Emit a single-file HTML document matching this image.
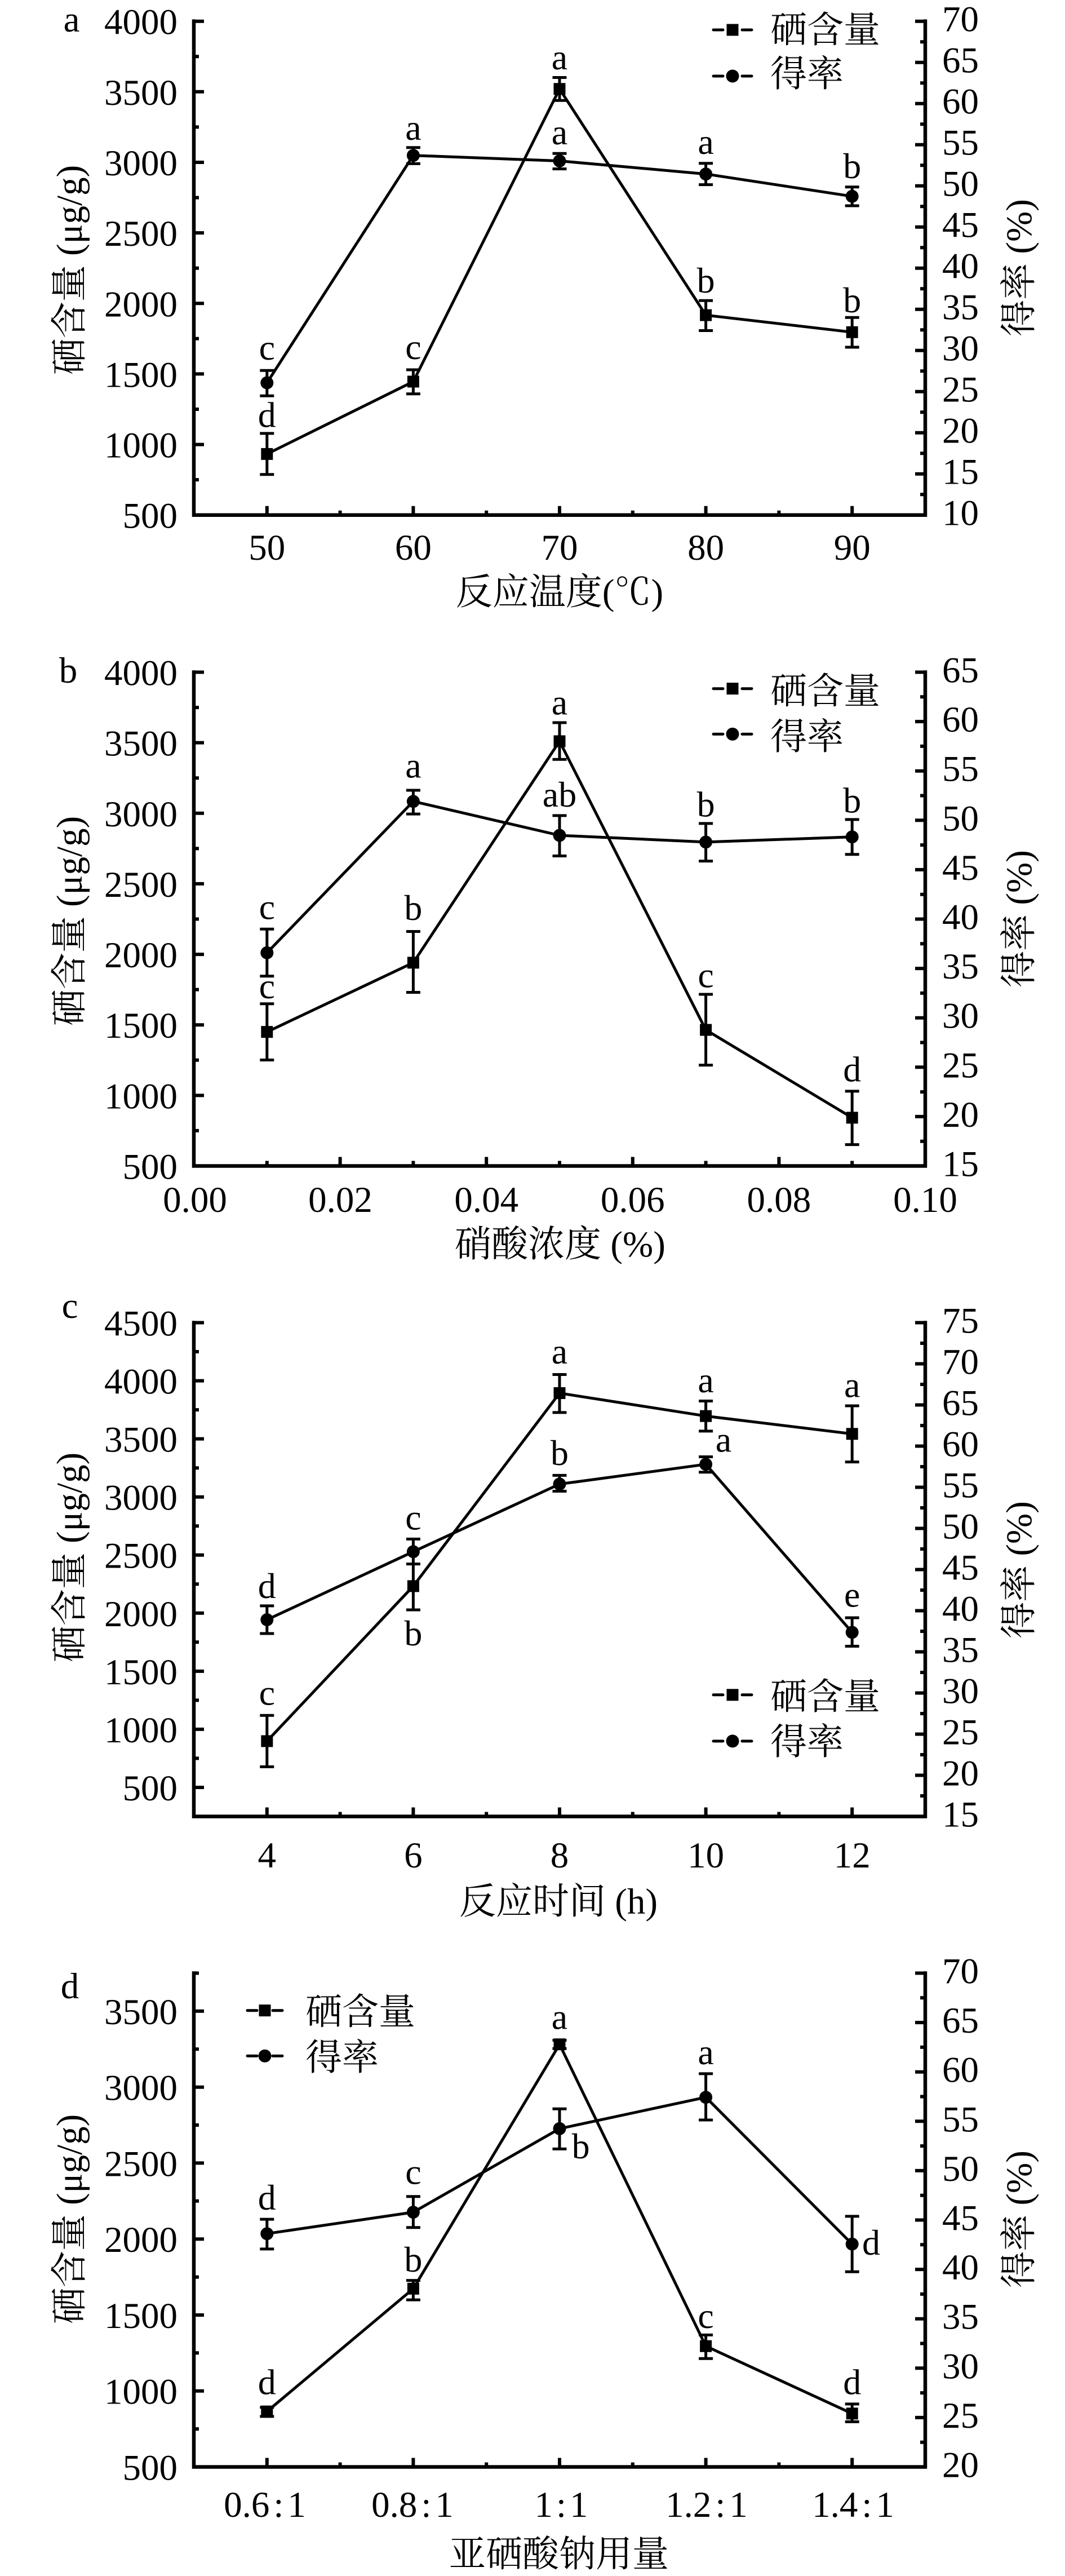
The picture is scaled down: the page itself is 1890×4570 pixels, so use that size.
<!DOCTYPE html>
<html>
<head>
<meta charset="utf-8">
<style>
html,body{margin:0;padding:0;background:#fff;}
svg{display:block;}
svg text{font-family:"Liberation Serif","Noto Serif CJK SC",serif;font-size:65px;fill:#000;}
.m{text-anchor:middle;}
.e{text-anchor:end;}
.l{font-size:64px;text-anchor:middle;}
.ax{fill:none;stroke:#000;stroke-width:6.5;}
.tk{fill:none;stroke:#000;stroke-width:6;}
.dl{fill:none;stroke:#000;stroke-width:5;stroke-linejoin:round;}
.eb{fill:none;stroke:#000;stroke-width:5;}
.lg{fill:none;stroke:#000;stroke-width:5;stroke-linecap:round;}
</style>
</head>
<body>
<svg width="1890" height="4570" viewBox="0 0 1890 4570" xmlns="http://www.w3.org/2000/svg">
<rect x="0" y="0" width="1890" height="4570" fill="#fff"/>

<!-- ================= PANEL A ================= -->
<g>
<path class="ax" d="M344 34.4V917M340.75 913.7H1645.25M1642 34.4V917"/>
<path class="tk" d="M344 788.6h18M344 663.4h18M344 538.3h18M344 413.1h18M344 288h18M344 162.8h18M344 37.7h18
M344 851.1h9M344 726h9M344 600.8h9M344 475.7h9M344 350.6h9M344 225.4h9M344 100.3h9
M1642 840.7h-18M1642 767.7h-18M1642 694.7h-18M1642 621.7h-18M1642 548.7h-18M1642 475.7h-18M1642 402.7h-18M1642 329.7h-18M1642 256.7h-18M1642 183.7h-18M1642 110.7h-18M1642 37.7h-18
M1642 877.2h-9M1642 804.2h-9M1642 731.2h-9M1642 658.2h-9M1642 585.2h-9M1642 512.2h-9M1642 439.2h-9M1642 366.2h-9M1642 293.2h-9M1642 220.2h-9M1642 147.2h-9M1642 74.2h-9
M473.8 913.7v-16M733.4 913.7v-16M993 913.7v-16M1252.6 913.7v-16M1512.2 913.7v-16
M603.6 913.7v-8M863.2 913.7v-8M1122.8 913.7v-8M1382.4 913.7v-8"/>
<text class="e" x="315" y="936.7">500</text>
<text class="e" x="315" y="811.6">1000</text>
<text class="e" x="315" y="686.4">1500</text>
<text class="e" x="315" y="561.3">2000</text>
<text class="e" x="315" y="436.1">2500</text>
<text class="e" x="315" y="311">3000</text>
<text class="e" x="315" y="185.8">3500</text>
<text class="e" x="315" y="60.7">4000</text>
<text x="1672" y="931.7">10</text>
<text x="1672" y="858.7">15</text>
<text x="1672" y="785.7">20</text>
<text x="1672" y="712.7">25</text>
<text x="1672" y="639.7">30</text>
<text x="1672" y="566.7">35</text>
<text x="1672" y="493.7">40</text>
<text x="1672" y="420.7">45</text>
<text x="1672" y="347.7">50</text>
<text x="1672" y="274.7">55</text>
<text x="1672" y="201.7">60</text>
<text x="1672" y="128.7">65</text>
<text x="1672" y="55.7">70</text>
<text class="m" x="473.8" y="993">50</text>
<text class="m" x="733.4" y="993">60</text>
<text class="m" x="993" y="993">70</text>
<text class="m" x="1252.6" y="993">80</text>
<text class="m" x="1512.2" y="993">90</text>
<text class="m" x="993" y="1072">反应温度(℃)</text>
<text class="m" transform="translate(145,479) rotate(-90)">硒含量 (μg/g)</text>
<text class="m" transform="translate(1830,475) rotate(-90)">得率 (%)</text>
<text class="m" x="127" y="56">a</text>

<polyline class="dl" points="473.8,805.4 733.4,677 993,157.8 1252.6,559.1 1512.2,589.3"/>
<polyline class="dl" points="473.8,679.1 733.4,275.7 993,285.5 1252.6,308.7 1512.2,348.3"/>
<path class="eb" d="M473.8 768.9V841.8M461.3 768.9h25M461.3 841.8h25
M733.4 656V698.7M720.9 656h25M720.9 698.7h25
M993 137.5V178.2M980.5 137.5h25M980.5 178.2h25
M1252.6 533.2V586.5M1240.1 533.2h25M1240.1 586.5h25
M1512.2 563.3V616M1499.7 563.3h25M1499.7 616h25
M473.8 657.3V702.2M461.3 657.3h25M461.3 702.2h25
M733.4 261.7V290.4M720.9 261.7h25M720.9 290.4h25
M993 272.2V299.6M980.5 272.2h25M980.5 299.6h25
M1252.6 289.7V327.6M1240.1 289.7h25M1240.1 327.6h25
M1512.2 331.7V365M1499.7 331.7h25M1499.7 365h25"/>
<rect x="463.3" y="794.9" width="21" height="21"/>
<rect x="722.9" y="666.5" width="21" height="21"/>
<rect x="982.5" y="147.3" width="21" height="21"/>
<rect x="1242.1" y="548.6" width="21" height="21"/>
<rect x="1501.7" y="578.8" width="21" height="21"/>
<circle cx="473.8" cy="679.1" r="11.5"/>
<circle cx="733.4" cy="275.7" r="11.5"/>
<circle cx="993" cy="285.5" r="11.5"/>
<circle cx="1252.6" cy="308.7" r="11.5"/>
<circle cx="1512.2" cy="348.3" r="11.5"/>
<text class="l" x="473.8" y="638">c</text>
<text class="l" x="473.8" y="757.6">d</text>
<text class="l" x="733.4" y="248">a</text>
<text class="l" x="733.4" y="637">c</text>
<text class="l" x="993" y="123">a</text>
<text class="l" x="993" y="256">a</text>
<text class="l" x="1252.6" y="273">a</text>
<text class="l" x="1252.6" y="519">b</text>
<text class="l" x="1512.2" y="316">b</text>
<text class="l" x="1512.2" y="554">b</text>

<path class="lg" d="M1266 53H1283M1317 53H1334M1266 135H1283M1317 135H1334"/>
<rect x="1289.5" y="42.5" width="21" height="21"/>
<circle cx="1300" cy="135" r="11.5"/>
<text x="1367" y="75">硒含量</text>
<text x="1367" y="153">得率</text>
</g>

<!-- ================= PANEL B ================= -->
<g>
<path class="ax" d="M344 1189.2V2071.8M340.75 2068.5H1645.25M1642 1189.2V2071.8"/>
<path class="tk" d="M344 1943.4h18M344 1818.2h18M344 1693.1h18M344 1567.9h18M344 1442.8h18M344 1317.6h18M344 1192.5h18
M344 2005.9h9M344 1880.8h9M344 1755.6h9M344 1630.5h9M344 1505.4h9M344 1380.2h9M344 1255.1h9
M1642 1980.9h-18M1642 1893.3h-18M1642 1805.7h-18M1642 1718.1h-18M1642 1630.5h-18M1642 1542.9h-18M1642 1455.3h-18M1642 1367.7h-18M1642 1280.1h-18M1642 1192.5h-18
M1642 2024.7h-9M1642 1937.1h-9M1642 1849.5h-9M1642 1761.9h-9M1642 1674.3h-9M1642 1586.7h-9M1642 1499.1h-9M1642 1411.5h-9M1642 1323.9h-9M1642 1236.3h-9
M603.6 2068.5v-16M863.2 2068.5v-16M1122.8 2068.5v-16M1382.4 2068.5v-16
M473.8 2068.5v-9M733.4 2068.5v-9M993 2068.5v-9M1252.6 2068.5v-9M1512.2 2068.5v-9"/>
<text class="e" x="315" y="2091.5">500</text>
<text class="e" x="315" y="1966.4">1000</text>
<text class="e" x="315" y="1841.2">1500</text>
<text class="e" x="315" y="1716.1">2000</text>
<text class="e" x="315" y="1590.9">2500</text>
<text class="e" x="315" y="1465.8">3000</text>
<text class="e" x="315" y="1340.6">3500</text>
<text class="e" x="315" y="1215.5">4000</text>
<text x="1672" y="2086.5">15</text>
<text x="1672" y="1998.9">20</text>
<text x="1672" y="1911.3">25</text>
<text x="1672" y="1823.7">30</text>
<text x="1672" y="1736.1">35</text>
<text x="1672" y="1648.5">40</text>
<text x="1672" y="1560.9">45</text>
<text x="1672" y="1473.3">50</text>
<text x="1672" y="1385.7">55</text>
<text x="1672" y="1298.1">60</text>
<text x="1672" y="1210.5">65</text>
<text class="m" x="346" y="2150">0.00</text>
<text class="m" x="604" y="2150">0.02</text>
<text class="m" x="863.2" y="2150">0.04</text>
<text class="m" x="1122.8" y="2150">0.06</text>
<text class="m" x="1382.4" y="2150">0.08</text>
<text class="m" x="1642" y="2150">0.10</text>
<text class="m" x="994" y="2229">硝酸浓度 (%)</text>
<text class="m" transform="translate(145,1634) rotate(-90)">硒含量 (μg/g)</text>
<text class="m" transform="translate(1830,1630) rotate(-90)">得率 (%)</text>
<text class="m" x="121" y="1211">b</text>

<polyline class="dl" points="473.8,1830.7 733.4,1707.9 993,1315 1252.6,1827.1 1512.2,1982.9"/>
<polyline class="dl" points="473.8,1690.3 733.4,1421.7 993,1482 1252.6,1493.9 1512.2,1484.8"/>
<path class="eb" d="M473.8 1780.8V1880.5M461.3 1780.8h25M461.3 1880.5h25
M733.4 1652.5V1760.5M720.9 1652.5h25M720.9 1760.5h25
M993 1282V1347.3M980.5 1282h25M980.5 1347.3h25
M1252.6 1764V1889.6M1240.1 1764h25M1240.1 1889.6h25
M1512.2 1935.9V2030.6M1499.7 1935.9h25M1499.7 2030.6h25
M473.8 1648.3V1731.7M461.3 1648.3h25M461.3 1731.7h25
M733.4 1402V1444.1M720.9 1402h25M720.9 1444.1h25
M993 1446.9V1518.5M980.5 1446.9h25M980.5 1518.5h25
M1252.6 1460.9V1527.6M1240.1 1460.9h25M1240.1 1527.6h25
M1512.2 1453.9V1515.7M1499.7 1453.9h25M1499.7 1515.7h25"/>
<rect x="463.3" y="1820.2" width="21" height="21"/>
<rect x="722.9" y="1697.4" width="21" height="21"/>
<rect x="982.5" y="1304.5" width="21" height="21"/>
<rect x="1242.1" y="1816.6" width="21" height="21"/>
<rect x="1501.7" y="1972.4" width="21" height="21"/>
<circle cx="473.8" cy="1690.3" r="11.5"/>
<circle cx="733.4" cy="1421.7" r="11.5"/>
<circle cx="993" cy="1482" r="11.5"/>
<circle cx="1252.6" cy="1493.9" r="11.5"/>
<circle cx="1512.2" cy="1484.8" r="11.5"/>
<text class="l" x="473.8" y="1630.7">c</text>
<text class="l" x="473.8" y="1771">c</text>
<text class="l" x="733.4" y="1379.6">a</text>
<text class="l" x="733.4" y="1632">b</text>
<text class="l" x="993" y="1267.3">a</text>
<text class="l" x="993" y="1430.8">ab</text>
<text class="l" x="1252.6" y="1448.3">b</text>
<text class="l" x="1252.6" y="1751.4">c</text>
<text class="l" x="1512.2" y="1441.3">b</text>
<text class="l" x="1512.2" y="1918.3">d</text>

<path class="lg" d="M1266 1221.7H1283M1317 1221.7H1334M1266 1302.4H1283M1317 1302.4H1334"/>
<rect x="1289.5" y="1211.2" width="21" height="21"/>
<circle cx="1300" cy="1302.4" r="11.5"/>
<text x="1367" y="1248">硒含量</text>
<text x="1367" y="1329">得率</text>
</g>

<!-- ================= PANEL C ================= -->
<g>
<path class="ax" d="M344 2343.2V3225.8M340.75 3222.5H1645.25M1642 2343.2V3225.8"/>
<path class="tk" d="M344 3171h18M344 3067.9h18M344 2964.9h18M344 2861.8h18M344 2758.7h18M344 2655.7h18M344 2552.6h18M344 2449.6h18M344 2346.5h18
M344 3119.4h9M344 3016.4h9M344 2913.3h9M344 2810.3h9M344 2707.2h9M344 2604.2h9M344 2501.1h9M344 2398h9
M1642 3149.5h-18M1642 3076.5h-18M1642 3003.5h-18M1642 2930.5h-18M1642 2857.5h-18M1642 2784.5h-18M1642 2711.5h-18M1642 2638.5h-18M1642 2565.5h-18M1642 2492.5h-18M1642 2419.5h-18M1642 2346.5h-18
M1642 3186h-9M1642 3113h-9M1642 3040h-9M1642 2967h-9M1642 2894h-9M1642 2821h-9M1642 2748h-9M1642 2675h-9M1642 2602h-9M1642 2529h-9M1642 2456h-9M1642 2383h-9
M473.8 3222.5v-16M733.4 3222.5v-16M993 3222.5v-16M1252.6 3222.5v-16M1512.2 3222.5v-16
M603.6 3222.5v-8M863.2 3222.5v-8M1122.8 3222.5v-8M1382.4 3222.5v-8"/>
<text class="e" x="315" y="3194">500</text>
<text class="e" x="315" y="3090.9">1000</text>
<text class="e" x="315" y="2987.9">1500</text>
<text class="e" x="315" y="2884.8">2000</text>
<text class="e" x="315" y="2781.7">2500</text>
<text class="e" x="315" y="2678.7">3000</text>
<text class="e" x="315" y="2575.6">3500</text>
<text class="e" x="315" y="2472.6">4000</text>
<text class="e" x="315" y="2369.5">4500</text>
<text x="1672" y="3240.5">15</text>
<text x="1672" y="3167.5">20</text>
<text x="1672" y="3094.5">25</text>
<text x="1672" y="3021.5">30</text>
<text x="1672" y="2948.5">35</text>
<text x="1672" y="2875.5">40</text>
<text x="1672" y="2802.5">45</text>
<text x="1672" y="2729.5">50</text>
<text x="1672" y="2656.5">55</text>
<text x="1672" y="2583.5">60</text>
<text x="1672" y="2510.5">65</text>
<text x="1672" y="2437.5">70</text>
<text x="1672" y="2364.5">75</text>
<text class="m" x="473.8" y="3313">4</text>
<text class="m" x="733.4" y="3313">6</text>
<text class="m" x="993" y="3313">8</text>
<text class="m" x="1252.6" y="3313">10</text>
<text class="m" x="1512.2" y="3313">12</text>
<text class="m" x="991" y="3395">反应时间 (h)</text>
<text class="m" transform="translate(145,2763) rotate(-90)">硒含量 (μg/g)</text>
<text class="m" transform="translate(1830,2785) rotate(-90)">得率 (%)</text>
<text class="m" x="124" y="2338">c</text>

<polyline class="dl" points="473.8,3088.9 733.4,2813.9 993,2471.5 1252.6,2512.2 1512.2,2543.8"/>
<polyline class="dl" points="473.8,2873.5 733.4,2752.8 993,2632.9 1252.6,2597.8 1512.2,2895.9"/>
<path class="eb" d="M473.8 3043.3V3134.4M461.3 3043.3h25M461.3 3134.4h25
M733.4 2774.6V2856M720.9 2774.6h25M720.9 2856h25
M993 2438.5V2505.9M980.5 2438.5h25M980.5 2505.9h25
M1252.6 2485.5V2538.9M1240.1 2485.5h25M1240.1 2538.9h25
M1512.2 2494V2593.6M1499.7 2494h25M1499.7 2593.6h25
M473.8 2848.9V2898M461.3 2848.9h25M461.3 2898h25
M733.4 2730.4V2774.6M720.9 2730.4h25M720.9 2774.6h25
M993 2617.4V2645.5M980.5 2617.4h25M980.5 2645.5h25
M1252.6 2584.5V2611.8M1240.1 2584.5h25M1240.1 2611.8h25
M1512.2 2870V2920.5M1499.7 2870h25M1499.7 2920.5h25"/>
<rect x="463.3" y="3078.4" width="21" height="21"/>
<rect x="722.9" y="2803.4" width="21" height="21"/>
<rect x="982.5" y="2461" width="21" height="21"/>
<rect x="1242.1" y="2501.7" width="21" height="21"/>
<rect x="1501.7" y="2533.3" width="21" height="21"/>
<circle cx="473.8" cy="2873.5" r="11.5"/>
<circle cx="733.4" cy="2752.8" r="11.5"/>
<circle cx="993" cy="2632.9" r="11.5"/>
<circle cx="1252.6" cy="2597.8" r="11.5"/>
<circle cx="1512.2" cy="2895.9" r="11.5"/>
<text class="l" x="473.8" y="2834.9">d</text>
<text class="l" x="473.8" y="3024.3">c</text>
<text class="l" x="733.4" y="2713.5">c</text>
<text class="l" x="733.4" y="2919">b</text>
<text class="l" x="993" y="2418.9">a</text>
<text class="l" x="993" y="2599.2">b</text>
<text class="l" x="1252.6" y="2470.1">a</text>
<text class="l" x="1284" y="2575.3">a</text>
<text class="l" x="1512.2" y="2478.5">a</text>
<text class="l" x="1512.2" y="2850.3">e</text>

<path class="lg" d="M1266 3006.8H1283M1317 3006.8H1334M1266 3088.9H1283M1317 3088.9H1334"/>
<rect x="1289.5" y="2996.3" width="21" height="21"/>
<circle cx="1300" cy="3088.9" r="11.5"/>
<text x="1367" y="3032">硒含量</text>
<text x="1367" y="3112">得率</text>
</g>

<!-- ================= PANEL D ================= -->
<g>
<path class="ax" d="M344 3497.2V4379.8M340.75 4376.5H1645.25M1642 3497.2V4379.8"/>
<path class="tk" d="M344 4241.7h18M344 4107h18M344 3972.2h18M344 3837.4h18M344 3702.7h18M344 3567.9h18
M344 4309.1h9M344 4174.3h9M344 4039.6h9M344 3904.8h9M344 3770h9M344 3635.3h9M344 3500.5h9
M1642 4288.9h-18M1642 4201.3h-18M1642 4113.7h-18M1642 4026.1h-18M1642 3938.5h-18M1642 3850.9h-18M1642 3763.3h-18M1642 3675.7h-18M1642 3588.1h-18M1642 3500.5h-18
M1642 4332.7h-9M1642 4245.1h-9M1642 4157.5h-9M1642 4069.9h-9M1642 3982.3h-9M1642 3894.7h-9M1642 3807.1h-9M1642 3719.5h-9M1642 3631.9h-9M1642 3544.3h-9
M473.8 4376.5v-16M733.4 4376.5v-16M993 4376.5v-16M1252.6 4376.5v-16M1512.2 4376.5v-16
M603.6 4376.5v-8M863.2 4376.5v-8M1122.8 4376.5v-8M1382.4 4376.5v-8"/>
<text class="e" x="315" y="4399.5">500</text>
<text class="e" x="315" y="4264.7">1000</text>
<text class="e" x="315" y="4130">1500</text>
<text class="e" x="315" y="3995.2">2000</text>
<text class="e" x="315" y="3860.4">2500</text>
<text class="e" x="315" y="3725.7">3000</text>
<text class="e" x="315" y="3590.9">3500</text>
<text x="1672" y="4394.5">20</text>
<text x="1672" y="4306.9">25</text>
<text x="1672" y="4219.3">30</text>
<text x="1672" y="4131.7">35</text>
<text x="1672" y="4044.1">40</text>
<text x="1672" y="3956.5">45</text>
<text x="1672" y="3868.9">50</text>
<text x="1672" y="3781.3">55</text>
<text x="1672" y="3693.7">60</text>
<text x="1672" y="3606.1">65</text>
<text x="1672" y="3518.5">70</text>
<text class="m" x="470" y="4465">0.6<tspan dx="7">:</tspan><tspan dx="7">1</tspan></text>
<text class="m" x="732" y="4465">0.8<tspan dx="7">:</tspan><tspan dx="7">1</tspan></text>
<text class="m" x="996" y="4465">1<tspan dx="6">:</tspan><tspan dx="6">1</tspan></text>
<text class="m" x="1254" y="4465">1.2<tspan dx="7">:</tspan><tspan dx="7">1</tspan></text>
<text class="m" x="1514" y="4465">1.4<tspan dx="7">:</tspan><tspan dx="7">1</tspan></text>
<text class="m" x="992" y="4553">亚硒酸钠用量</text>
<text class="m" transform="translate(145,3937) rotate(-90)">硒含量 (μg/g)</text>
<text class="m" transform="translate(1830,3937) rotate(-90)">得率 (%)</text>
<text class="m" x="124" y="3545">d</text>

<polyline class="dl" points="473.8,4278.1 733.4,4060.3 993,3626.8 1252.6,4162.2 1512.2,4281.8"/>
<polyline class="dl" points="473.8,3962.7 733.4,3924.6 993,3776.4 1252.6,3720.7 1512.2,3981.1"/>
<path class="eb" d="M473.8 4270.8V4286.9M461.3 4270.8h25M461.3 4286.9h25
M733.4 4045.6V4080.1M720.9 4045.6h25M720.9 4080.1h25
M993 3619.5V3634.2M980.5 3619.5h25M980.5 3634.2h25
M1252.6 4142.4V4184.2M1240.1 4142.4h25M1240.1 4184.2h25
M1512.2 4264.9V4296.4M1499.7 4264.9h25M1499.7 4296.4h25
M473.8 3937.1V3989.9M461.3 3937.1h25M461.3 3989.9h25
M733.4 3896.7V3951.7M720.9 3896.7h25M720.9 3951.7h25
M993 3741.2V3812.4M980.5 3741.2h25M980.5 3812.4h25
M1252.6 3678.9V3761M1240.1 3678.9h25M1240.1 3761h25
M1512.2 3931.9V4030.2M1499.7 3931.9h25M1499.7 4030.2h25"/>
<rect x="463.3" y="4267.6" width="21" height="21"/>
<rect x="722.9" y="4049.8" width="21" height="21"/>
<rect x="982.5" y="3616.3" width="21" height="21"/>
<rect x="1242.1" y="4151.7" width="21" height="21"/>
<rect x="1501.7" y="4271.3" width="21" height="21"/>
<circle cx="473.8" cy="3962.7" r="11.5"/>
<circle cx="733.4" cy="3924.6" r="11.5"/>
<circle cx="993" cy="3776.4" r="11.5"/>
<circle cx="1252.6" cy="3720.7" r="11.5"/>
<circle cx="1512.2" cy="3981.1" r="11.5"/>
<text class="l" x="473.8" y="3920.2">d</text>
<text class="l" x="473.8" y="4247.3">d</text>
<text class="l" x="733.4" y="3874.7">c</text>
<text class="l" x="733.4" y="4030.2">b</text>
<text class="l" x="993" y="3599.7">a</text>
<text class="l" x="1030.6" y="3829.2">b</text>
<text class="l" x="1252.6" y="3662">a</text>
<text class="l" x="1252.6" y="4130">c</text>
<text class="l" x="1546" y="4000">d</text>
<text class="l" x="1512.2" y="4247.3">d</text>

<path class="lg" d="M439 3566.7H456M484 3566.7H501M439 3647.4H456M484 3647.4H501"/>
<rect x="459.5" y="3556.2" width="21" height="21"/>
<circle cx="470" cy="3647.4" r="11.5"/>
<text x="542" y="3591">硒含量</text>
<text x="542" y="3672">得率</text>
</g>
</svg>
</body>
</html>
